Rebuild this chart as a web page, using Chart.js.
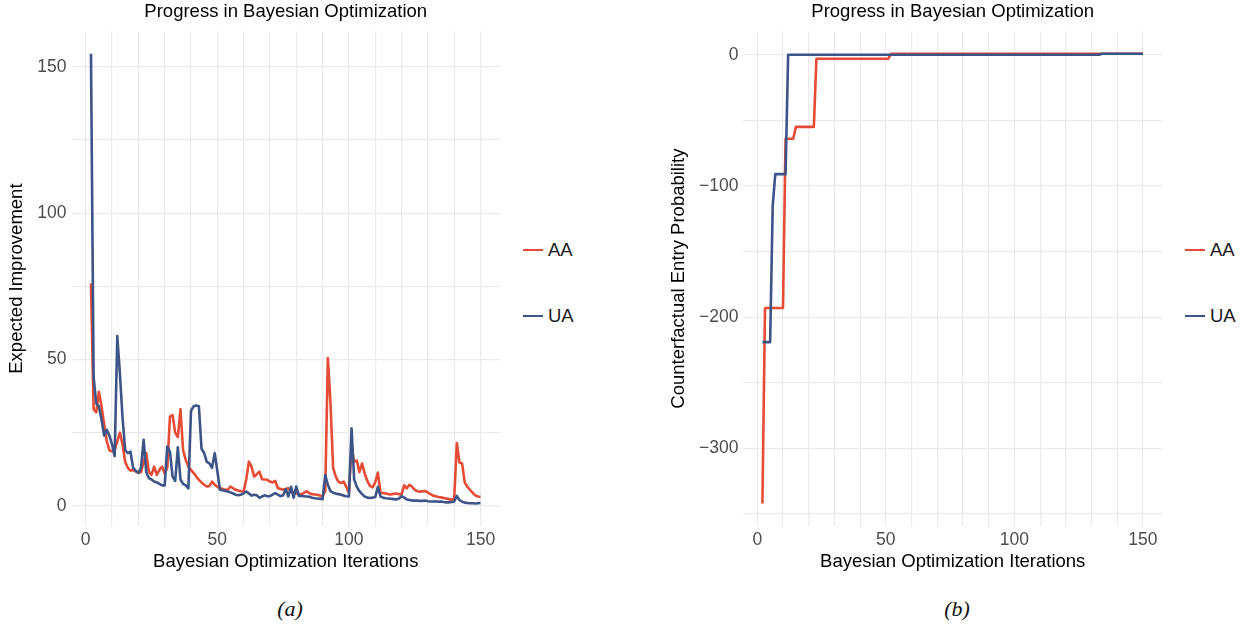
<!DOCTYPE html>
<html>
<head>
<meta charset="utf-8">
<script src="https://cdn.jsdelivr.net/npm/chart.js@4.4.1/dist/chart.umd.min.js"></script>
<style>
  html, body { margin: 0; padding: 0; background: #ffffff; }
  body { width: 1247px; height: 630px; position: relative; overflow: hidden;
         font-family: "Liberation Sans", Arial, sans-serif; }
  canvas { position: absolute; top: 0; }
  .legend-item { position: absolute; height: 24px; display: flex; align-items: center; white-space: nowrap; }
  .legend-swatch { width: 20px; height: 2.6px; margin-right: 5px; }
  .legend-text { font-size: 18.5px; color: #1a1a1a; }
  .caption { position: absolute; top: 596px; width: 60px; text-align: center;
             font-family: "Liberation Serif", "DejaVu Serif", serif; font-style: italic; font-size: 22px; color: #111; }
</style>
</head>
<body>
<canvas id="improvementChart" width="500" height="580" style="left:0px"></canvas>
<canvas id="entryChart" width="500" height="580" style="left:662px"></canvas>
<div class="caption" style="left:260px">(a)</div>
<div class="caption" style="left:927px">(b)</div>

<script>
// Series names and colours (AA first, UA second)
const seriesNames = ['AA', 'UA'];
const seriesColors = ['#E64B35', '#3C5488'];

// Iterations start at 2 for every run
const firstIteration = 2;

// Expected improvement per iteration, iterations 2..150
const aaImprovement = [
  76, 33, 32, 39, 34, 28, 22, 19, 18.6, 19,
  22, 25, 21, 15, 13, 12, 12.3, 11.7, 11.3, 11.5,
  15, 18, 11.7, 10.6, 13.4, 10.6, 12.3, 13.4, 11, 13,
  30.5, 31, 25, 23.5, 33, 19, 15.7, 13.4, 12.3, 11.2,
  10, 8.9, 8, 7.2, 6.6, 6.8, 8.3, 7.2, 6.5, 6,
  5.8, 5.5, 5.5, 6.6, 6, 5.5, 5.2, 5, 4.9, 9,
  15.1, 13.4, 10, 10.8, 11.7, 9.1, 9, 8.9, 8.3, 8,
  8.5, 6, 5.8, 5.5, 5.8, 6, 4.8, 4.6, 4.3, 4,
  3.9, 4.5, 5, 4.3, 4, 3.9, 3.8, 3.5, 3.3, 5,
  50.5, 35, 13, 10, 8.3, 7.8, 8.3, 6.5, 4.5, 20.3,
  15, 15.5, 11.5, 14.5, 11, 8.5, 6.8, 6.3, 8, 11.4,
  4.5, 4.4, 4.2, 4, 3.9, 4.1, 4.2, 4, 3.9, 7,
  6, 7.2, 6.5, 5.5, 5, 4.8, 5, 5.1, 4.5, 4,
  3.5, 3.3, 3, 2.9, 2.7, 2.5, 2.3, 2.1, 2.5, 21.5,
  14.8, 14.5, 8, 6.5, 5.5, 4.5, 3.6, 3.2, 3
];
const uaImprovement = [
  154.5, 44, 35, 34, 29.5, 24, 26, 24, 21, 17,
  58, 45, 30, 19, 18, 18.5, 13, 12, 11.3, 13,
  22.6, 11.5, 9.5, 9, 8.3, 8, 7.5, 7, 7, 20.3,
  18.5, 10, 8.5, 20, 9, 7.5, 7, 6, 32.5, 34,
  34.3, 34, 19.5, 18, 15, 14.5, 13, 18, 12, 5.5,
  5.3, 5.1, 4.9, 4.6, 4.2, 3.8, 3.6, 3.8, 4.3, 4.9,
  4.2, 3.5, 3.8, 3.6, 2.7, 3.2, 3.6, 3.3, 3.3, 3.8,
  4.4, 3.8, 3.3, 3.6, 5.7, 3.2, 6.5, 2.8, 6.6, 3.4,
  3.4, 3.3, 3.2, 3.1, 2.8, 2.6, 2.5, 2.4, 2.3, 10.5,
  7.2, 5, 4.5, 4.2, 4, 3.8, 3.5, 3.3, 3.2, 26.5,
  9, 6.5, 5, 4, 3.2, 2.8, 2.7, 2.8, 3, 6.5,
  3.2, 2.8, 2.6, 2.5, 2.4, 2.3, 2.2, 2.5, 3.3, 2.8,
  2.2, 2, 1.8, 1.8, 1.8, 1.7, 1.7, 1.8, 1.6, 1.5,
  1.5, 1.6, 1.4, 1.5, 1.3, 1.2, 1.2, 1.3, 1.5, 3.4,
  2, 1.4, 1.1, 1, 0.9, 0.9, 0.8, 0.9, 1
];

// Best counterfactual entry probability so far: iterations where the value changes
const aaEntryIterations = [2, 3, 10, 11, 14, 15, 22, 23, 51, 52, 150];
const aaEntryValues     = [-342, -193, -193, -64, -64, -55, -55, -3, -3, 0.8, 0.8];
const uaEntryIterations = [2, 5, 6, 7, 11, 12, 133, 134, 150];
const uaEntryValues     = [-219, -219, -115, -91, -91, 0, 0, 0.7, 0.7];

// Axis ticks
const iterationTickLabels = [0, 50, 100, 150];
const iterationGridStep = 10;
const improvementTickLabels = [0, 50, 100, 150];
const improvementGridStep = 25;
const entryTickLabels = [0, -100, -200, -300];
const entryGridStep = 50;

const FONT = '"Liberation Sans", Arial, sans-serif';

const iterations = aaImprovement.map((_, i) => firstIteration + i);
const toPoints = (xs, ys) => xs.map((x, i) => ({ x: x, y: ys[i] }));

// ggplot-style 5% expansion of the data range
function expandedRange(values, mult) {
  const lo = Math.min(...values), hi = Math.max(...values);
  const pad = (hi - lo) * mult;
  return { min: lo - pad, max: hi + pad };
}

function gridTicks(range, step) {
  const ticks = [];
  for (let v = Math.ceil(range.min / step) * step; v <= range.max + 1e-9; v += step) {
    ticks.push({ value: v });
  }
  return ticks;
}

const formatNumber = (v) => (v < 0 ? '\u2212' + Math.abs(v) : String(v));

function axis(opts) {
  return {
    type: 'linear',
    min: opts.range.min,
    max: opts.range.max,
    afterBuildTicks: (scale) => { scale.ticks = gridTicks(opts.range, opts.step); },
    afterFit: (scale) => {
      if (opts.vertical) scale.width = opts.size; else scale.height = opts.size;
    },
    grid: { color: '#ebebeb', lineWidth: 1.2, drawTicks: false },
    border: { display: false },
    ticks: {
      autoSkip: false,
      maxRotation: 0,
      padding: opts.vertical ? 5 : 3.5,
      color: '#4d4d4d',
      font: { family: FONT, size: 17.5 },
      callback: (v) => (opts.labels.includes(v) ? formatNumber(v) : '')
    },
    title: {
      display: true,
      text: opts.title,
      color: '#000000',
      font: { family: FONT, size: 18.5 },
      padding: opts.vertical ? { top: 6, bottom: 0 } : { top: 0, bottom: 6.9 }
    }
  };
}

function lineDataset(name, color, points, order) {
  return {
    label: name,
    data: points,
    borderColor: color,
    backgroundColor: color,
    borderWidth: 2.6,
    pointRadius: 0,
    pointHoverRadius: 0,
    tension: 0,
    borderJoinStyle: 'round',
    fill: false,
    order: order
  };
}

function makeChart(canvasId, datasets, xRange, yRange, yStep, yLabels, yTitle, yAxisWidth) {
  return new Chart(document.getElementById(canvasId), {
    type: 'line',
    data: { datasets: datasets },
    options: {
      responsive: false,
      animation: false,
      devicePixelRatio: 1,
      layout: { padding: 0 },
      plugins: {
        legend: { display: false },
        tooltip: { enabled: false },
        title: {
          display: true,
          text: 'Progress in Bayesian Optimization',
          fullSize: false,
          color: '#000000',
          font: { family: FONT, size: 18.5, weight: 'normal' },
          padding: { top: 0.9, bottom: 8.1 }
        }
      },
      scales: {
        x: axis({ range: xRange, step: iterationGridStep, labels: iterationTickLabels,
                  title: 'Bayesian Optimization Iterations', vertical: false, size: 54 }),
        y: axis({ range: yRange, step: yStep, labels: yLabels,
                  title: yTitle, vertical: true, size: yAxisWidth })
      }
    }
  });
}

// Panel (a): expected improvement
const improvementChart = makeChart(
  'improvementChart',
  [
    lineDataset(seriesNames[0], seriesColors[0], toPoints(iterations, aaImprovement), 1),
    lineDataset(seriesNames[1], seriesColors[1], toPoints(iterations, uaImprovement), 0)
  ],
  expandedRange(iterations, 0.05),
  expandedRange(aaImprovement.concat(uaImprovement), 0.05),
  improvementGridStep, improvementTickLabels, 'Expected Improvement', 71.5
);

// Panel (b): counterfactual entry probability
const entryChart = makeChart(
  'entryChart',
  [
    lineDataset(seriesNames[0], seriesColors[0], toPoints(aaEntryIterations, aaEntryValues), 1),
    lineDataset(seriesNames[1], seriesColors[1], toPoints(uaEntryIterations, uaEntryValues), 0)
  ],
  expandedRange(aaEntryIterations.concat(uaEntryIterations), 0.05),
  expandedRange(aaEntryValues.concat(uaEntryValues), 0.05),
  entryGridStep, entryTickLabels, 'Counterfactual Entry Probability', 81.4
);

// Legends to the right of each panel
function addLegend(chart, canvasLeft, offsetX, gap) {
  const area = chart.chartArea;
  const centerY = (area.top + area.bottom) / 2 + 4.5;
  chart.data.datasets.forEach((ds, i) => {
    const item = document.createElement('div');
    item.className = 'legend-item';
    item.style.left = (canvasLeft + area.right + offsetX) + 'px';
    item.style.top = (centerY + (i - 0.5) * gap - 12) + 'px';
    const sw = document.createElement('span');
    sw.className = 'legend-swatch';
    sw.style.background = ds.borderColor;
    const tx = document.createElement('span');
    tx.className = 'legend-text';
    tx.textContent = ds.label;
    item.appendChild(sw);
    item.appendChild(tx);
    document.body.appendChild(item);
  });
}
addLegend(improvementChart, 0, 23, 66);
addLegend(entryChart, 662, 23, 66);
</script>
</body>
</html>
